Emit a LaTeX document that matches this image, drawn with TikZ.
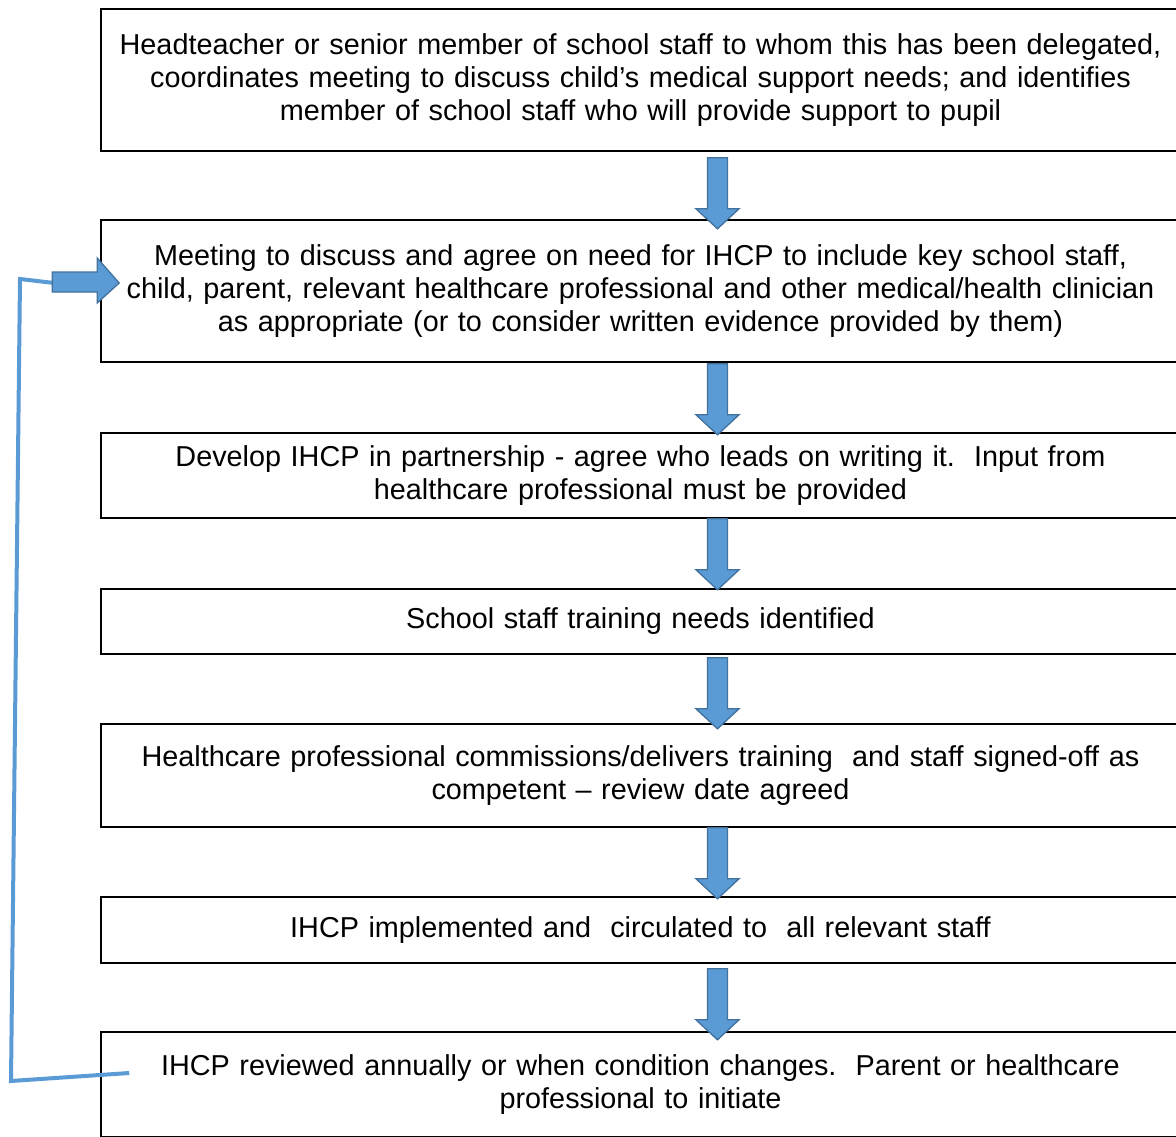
\documentclass[tikz,border=0pt]{standalone}
\usepackage{fontspec}
\setmainfont{Liberation Sans}
\usetikzlibrary{calc}
\definecolor{arrfill}{HTML}{5B9BD5}
\definecolor{arrline}{HTML}{41719C}
\tikzset{
  stepbox/.style={draw=black, line width=1.6pt, rectangle, minimum width=1079pt,
    text width=1075pt, align=center, inner sep=0pt,
    font=\fontsize{28.8}{33.3}\selectfont},
  blockarrow/.style={fill=arrfill, draw=arrline, line width=1.3pt, line join=miter},
  downarrow/.pic={\path[blockarrow] (-10,0) -- (10,0) -- (10,51) -- (21.5,51) -- (0,71) -- (-21.5,51) -- (-10,51) -- cycle;},
  feedback/.style={draw=arrfill, line width=4pt}
}
\begin{document}
\begin{tikzpicture}[x=1pt,y=-1pt]
\useasboundingbox (0,0) rectangle (1176,1137);
\clip (0,0) rectangle (1176,1137);
\node[stepbox, minimum height=142pt] (b1) at (640.5,80) {Headteacher or senior member of school staff to whom this has been delegated,\\ coordinates meeting to discuss child’s medical support needs; and identifies\\ member of school staff who will provide support to pupil};
\node[stepbox, minimum height=142pt] (b2) at (640.5,291) {Meeting to discuss and agree on need for IHCP to include key school staff,\\ child, parent, relevant healthcare professional and other medical/health clinician\\ as appropriate (or to consider written evidence provided by them)};
\node[stepbox, minimum height=85pt] (b3) at (640.5,475.5) {Develop IHCP in partnership - agree who leads on writing it.\ \ Input from\\ healthcare professional must be provided};
\node[stepbox, minimum height=65pt] (b4) at (640.5,621.5) {School staff training needs identified};
\node[stepbox, minimum height=103pt] (b5) at (640.5,775.5) {Healthcare professional commissions/delivers training\ \ and staff signed-off as\\ competent -- review date agreed};
\node[stepbox, minimum height=66pt] (b6) at (640.5,930) {IHCP implemented and\ \ circulated to\ \ all relevant staff};
\node[stepbox, minimum height=105pt] (b7) at (640.5,1084.5) {IHCP reviewed annually or when condition changes.\ \ Parent or healthcare\\ professional to initiate};
% down block arrows
\pic at ($(b1.south)+(77,6)$) {downarrow};
\pic at ($(b2.south)+(77,1)$) {downarrow};
\pic at ($(b3.south)+(77,0)$) {downarrow};
\pic at ($(b4.south)+(77,3)$) {downarrow};
\pic at ($(b5.south)+(77,0)$) {downarrow};
\pic at ($(b6.south)+(77,5)$) {downarrow};
% feedback loop
\coordinate (fa) at ($(b7.west)+(29,-11.5)$);
\coordinate (fb) at (11,1081);
\coordinate (fc) at (20,279);
\coordinate (fd) at ($(b2.west)+(-46,-8)$);
\draw[feedback] (fa) -- (fb) -- (fc) -- (fd);
\path[blockarrow] ($(b2.west)+(-48,-19)$) -- ($(b2.west)+(-3,-19)$) -- ($(b2.west)+(-3,-33)$) -- ($(b2.west)+(19,-8)$) -- ($(b2.west)+(-3,12)$) -- ($(b2.west)+(-3,1)$) -- ($(b2.west)+(-48,1)$) -- cycle;
\end{tikzpicture}
\end{document}
